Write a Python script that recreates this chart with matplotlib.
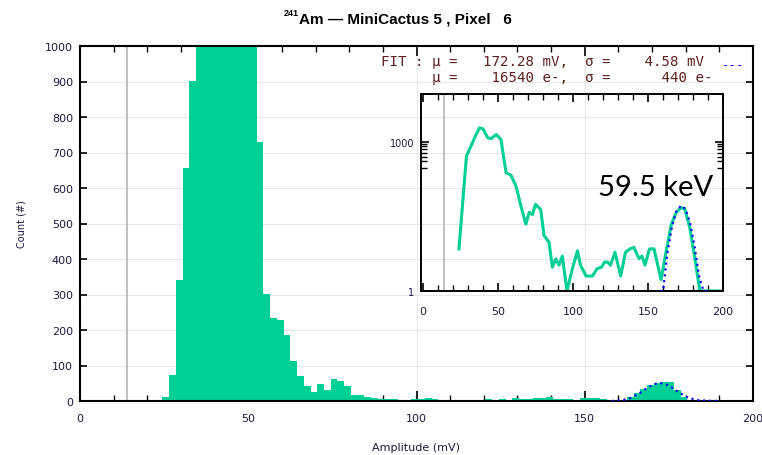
import matplotlib.pyplot as plt
import numpy as np
from matplotlib.ticker import MultipleLocator, FixedLocator, NullFormatter

# Data
bin_edges = np.arange(24.5, 200.5, 2.0)
counts = [10, 72, 342, 655, 902, 1400, 1880, 1850, 1500, 1180,
          1150, 1300, 1380, 1100, 729, 302, 233, 228, 185, 114,
          70, 41, 25, 47, 30, 61, 55, 43, 18, 16,
          11, 8, 6, 5, 5, 4, 3, 5, 7, 9,
          6, 4, 4, 3, 3, 3, 4, 4, 5, 4,
          6, 4, 9, 5, 6, 9, 9, 10, 7, 6,
          5, 4, 9, 9, 8, 6, 3, 2, 4, 12,
          22, 34, 45, 51, 53, 53, 30, 12, 4, 2,
          1, 0, 0, 0, 0, 0, 0]

# gaussian fit curve
fit_x = [158, 160, 163, 166, 169, 172, 175, 178, 181, 184, 187, 190]
fit_y = [0, 1, 6, 20, 40, 52, 44, 24, 8, 2, 0.5, 0]

# inset: log-scale spectrum
inset_x = [24, 29, 32, 35, 37.7, 40, 43.3, 45.5, 48.8, 52, 55.4, 58.7, 62, 65.3,
           68.6, 70.8, 73, 75, 78.5, 80.7, 84, 86.3, 88.5, 90.7, 92.9, 96, 99.6,
           103, 105, 108.7, 113, 116, 119, 121, 123, 125, 128, 131.8, 135, 138,
           140.6, 144, 146, 148, 151, 154, 158.7, 162, 165.6, 168.9, 172, 174.5,
           177.8, 181, 184.6, 190, 194, 198]
inset_y = [7, 510, 810, 1300, 1880, 1800, 1180, 1150, 1380, 1100, 237, 210, 128, 51,
           22, 38, 34, 55, 43, 13, 9.6, 3, 4.4, 3.3, 5, 1, 2.8,
           6.4, 3.3, 2, 2, 2.8, 3, 3.8, 3.8, 3.3, 6, 2, 6, 7,
           7.5, 4.5, 5, 3.3, 7, 7, 1.7, 6, 22, 38, 47, 45,
           19, 5, 1, 1, 1, 1]

threshold = 14
green = '#00cf96'
tick_color = '#1b1b40'

fig = plt.figure(figsize=(7.62, 4.56), dpi=100)
ax = fig.add_axes([80/762, 54/456, 673/762, 355/456])

ax.stairs(counts, bin_edges, fill=True, color=green, zorder=2)
ax.plot(fit_x, fit_y, color='#1010ee', linestyle=':', linewidth=1.6, zorder=3)
ax.axvline(threshold, color='#b5b5b5', linewidth=1.2, zorder=1)

ax.set_xlim(0, 200)
ax.set_ylim(0, 1000)
ax.xaxis.set_major_locator(MultipleLocator(50))
ax.xaxis.set_minor_locator(MultipleLocator(10))
ax.yaxis.set_major_locator(MultipleLocator(100))
ax.tick_params(which='both', direction='in', top=True, right=True, color='black')
ax.tick_params(axis='x', which='major', length=7, width=1.2, pad=9, labelsize=8, labelcolor=tick_color)
ax.tick_params(axis='x', which='minor', length=4, width=1.0)
ax.tick_params(axis='y', which='major', length=5, width=1.2, pad=5, labelsize=8, labelcolor=tick_color)
ax.grid(True, which='major', color='#e8e8e8', linewidth=0.8, zorder=0)
ax.set_axisbelow(True)
for s in ax.spines.values():
    s.set_linewidth(1.5)
ax.set_xlabel('Amplitude (mV)', fontsize=8, color=tick_color, labelpad=13)
ax.set_ylabel('Count (#)', fontsize=7, color=tick_color, labelpad=13)

# Inset
axin = fig.add_axes([421/762, 164/456, 302/762, 197/456])
axin.set_facecolor('none')
axin.set_yscale('log')
axin.plot(inset_x, inset_y, color=green, linewidth=2.2, zorder=2)
axin.plot(fit_x, np.clip(fit_y, 1, None), color='#1010ee', linestyle=':', linewidth=1.6, zorder=3)
axin.axvline(threshold, color='#b5b5b5', linewidth=1.2, zorder=1)
axin.set_xlim(-1.3, 200)
axin.set_ylim(1, 9000)
axin.xaxis.set_major_locator(MultipleLocator(50))
axin.xaxis.set_minor_locator(MultipleLocator(10))
axin.yaxis.set_major_locator(FixedLocator([1, 1000]))
axin.yaxis.set_minor_locator(FixedLocator([300, 400, 500, 600, 700, 800, 900]))
axin.yaxis.set_minor_formatter(NullFormatter())
axin.set_yticklabels(['1', '1000'])
axin.tick_params(which='both', direction='in', top=True, right=True, color='black')
axin.tick_params(axis='x', which='major', length=6, width=1.2, pad=11, labelsize=8, labelcolor=tick_color)
axin.tick_params(axis='x', which='minor', length=4, width=1.0)
axin.tick_params(axis='y', which='major', length=6, width=1.2, pad=5, labelsize=7, labelcolor=tick_color)
axin.tick_params(axis='y', which='minor', length=4, width=1.0)
for s in axin.spines.values():
    s.set_linewidth(1.4)

# Title
fig.text(284/762, 1 - 13/456, '241', fontsize=6.5, fontweight='bold',
         family='Liberation Sans', ha='left', va='center')
fig.text(299/762, 1 - 19/456, 'Am \u2014 MiniCactus 5 , Pixel   6', fontsize=11, fontweight='bold',
         family='Liberation Sans', ha='left', va='center')

# Fit annotation
fig.text(381/762, 1 - 62/456, 'FIT : \u03bc =   172.28 mV,  \u03c3 =    4.58 mV',
         family='DejaVu Sans Mono', fontsize=10.2, color='#5a2020', va='center', ha='left')
fig.text(381/762, 1 - 78/456, '      \u03bc =    16540 e-,  \u03c3 =      440 e-',
         family='DejaVu Sans Mono', fontsize=10.2, color='#5a2020', va='center', ha='left')
fig.text(722/762, 1 - 66/456, '---', family='DejaVu Sans Mono', fontsize=9,
         color='#1010ee', va='center', ha='left')

fig.text(598/762, 1 - 188/456, '59.5 keV', family='Lato', fontsize=21,
         color='black', va='center', ha='left')

plt.savefig('out.png', dpi=100)
